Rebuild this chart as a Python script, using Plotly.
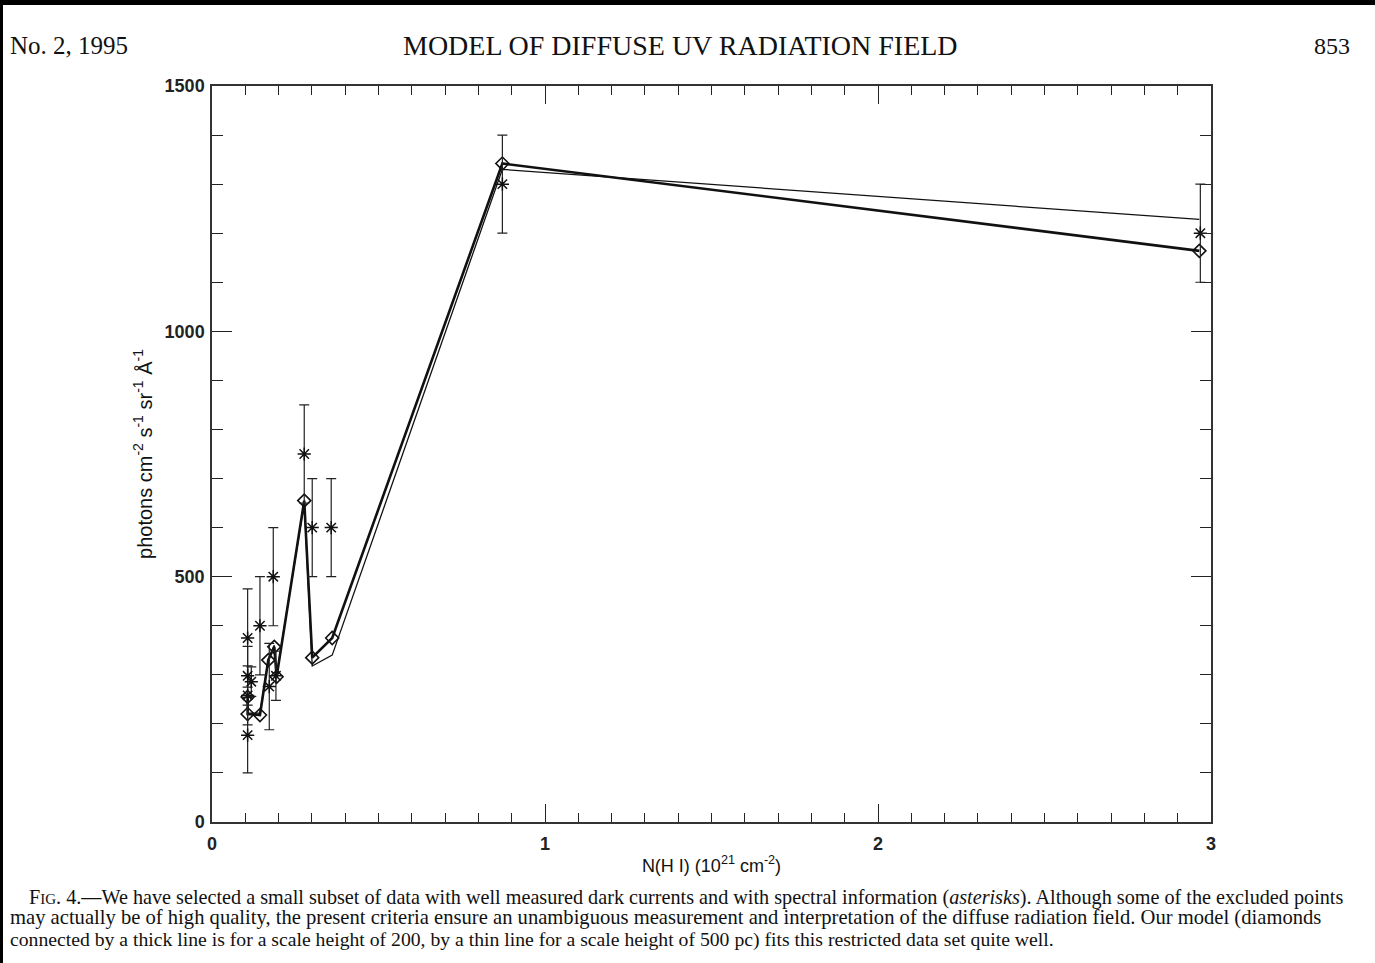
import plotly.graph_objects as go

# ---- data ----
ast_x = [0.107, 0.107, 0.107, 0.107, 0.118, 0.144, 0.172, 0.184, 0.192, 0.277, 0.301, 0.358, 0.872, 2.968]
ast_y = [375, 298, 258, 177, 286, 400, 276, 500, 298, 750, 600, 600, 1300, 1200]
ast_err = [100, 60, 60, 77, 30, 100, 88, 100, 50, 100, 100, 100, 100, 100]

model_x = [0.107, 0.107, 0.144, 0.169, 0.187, 0.194, 0.277, 0.301, 0.361, 0.872, 2.965]
thick_y = [255, 220, 218, 330, 357, 296, 655, 335, 375, 1342, 1164]
thin_y = [255, 222, 222, 332, 360, 300, 650, 318, 340, 1330, 1228]

x_ticks = [0, 1, 2, 3]
y_ticks = [0, 500, 1000, 1500]

W, H = 1375, 963
L, R, T, B = 212, 164, 86, 141
pw, ph = W - L - R, H - T - B


def px(xp):
    return (xp - L) / pw


def py(yp):
    return (H - B - yp) / ph


fig = go.Figure()

fig.add_trace(go.Scatter(
    x=model_x, y=thin_y, mode="lines",
    line=dict(color="#111", width=1.3), hoverinfo="skip", showlegend=False))
fig.add_trace(go.Scatter(
    x=model_x, y=thick_y, mode="lines+markers",
    line=dict(color="#111", width=2.6),
    marker=dict(symbol="diamond-open", size=10, color="#111", line=dict(width=1.6, color="#111")),
    showlegend=False))
fig.add_trace(go.Scatter(
    x=ast_x, y=ast_y, mode="markers",
    marker=dict(symbol="asterisk-open", size=11, color="#111", line=dict(width=1.5, color="#111")),
    error_y=dict(type="data", array=ast_err, visible=True, color="#222", thickness=1.2, width=5),
    showlegend=False))

sans = "Liberation Sans, Arial, sans-serif"
axis_common = dict(
    showline=True, linecolor="#333", linewidth=1.5, mirror="allticks",
    ticks="inside", tickcolor="#222", tickwidth=1.3,
    showgrid=False, zeroline=False,
    tickfont=dict(family=sans, size=18, color="#222", weight="bold"),
)

fig.update_xaxes(
    range=[0, 3], tickvals=x_ticks, ticklen=18, ticklabelstandoff=5,
    minor=dict(dtick=0.1, ticks="inside", ticklen=9, tickcolor="#222", tickwidth=1.2),
    title=dict(text="N(H I) (10<sup>21</sup> cm<sup>-2</sup>)", standoff=6,
               font=dict(family=sans, size=18, color="#111")),
    **axis_common)
fig.update_yaxes(
    range=[0, 1500], tickvals=y_ticks, ticklen=20, ticklabelstandoff=2,
    minor=dict(dtick=100, ticks="inside", ticklen=11, tickcolor="#222", tickwidth=1.2),
    title=dict(text="photons cm<sup>-2</sup> s<sup>-1</sup> sr<sup>-1</sup> Å<sup>-1</sup>", standoff=7,
               font=dict(family=sans, size=20, color="#111")),
    **axis_common)

serif = "Liberation Serif, Times New Roman, serif"
ann = []
ann.append(dict(text="No. 2, 1995", x=px(8), y=py(46), xanchor="left", yanchor="middle",
                font=dict(family=serif, size=25, color="#111")))
ann.append(dict(text="MODEL OF DIFFUSE UV RADIATION FIELD", x=px(680), y=py(46), xanchor="center",
                yanchor="middle", font=dict(family=serif, size=28, color="#111")))
ann.append(dict(text="853", x=px(1352), y=py(46), xanchor="right", yanchor="middle",
                font=dict(family=serif, size=24, color="#111")))

cap = [
    (27, 898, 20.2, "F<span style='font-size:15px'>IG</span>. 4.—We have selected a small subset of data with well measured dark currents and with spectral information (<i>asterisks</i>). Although some of the excluded points"),
    (8, 918, 20.6, "may actually be of high quality, the present criteria ensure an unambiguous measurement and interpretation of the diffuse radiation field. Our model (diamonds"),
    (8, 939, 19.7, "connected by a thick line is for a scale height of 200, by a thin line for a scale height of 500 pc) fits this restricted data set quite well."),
]
for xx, yy, fs, t in cap:
    ann.append(dict(text=t, x=px(xx), y=py(yy), xanchor="left", yanchor="middle",
                    font=dict(family=serif, size=fs, color="#111")))
for a in ann:
    a.update(xref="paper", yref="paper", showarrow=False)

shapes = [
    dict(type="rect", xref="paper", yref="paper", x0=px(0), x1=px(W), y0=py(0), y1=py(5),
         fillcolor="black", line=dict(width=0), layer="above"),
    dict(type="rect", xref="paper", yref="paper", x0=px(0), x1=px(3), y0=py(0), y1=py(H),
         fillcolor="black", line=dict(width=0), layer="above"),
]

fig.update_layout(
    width=W, height=H,
    margin=dict(l=L, r=R, t=T, b=B),
    paper_bgcolor="white", plot_bgcolor="white",
    annotations=ann, shapes=shapes,
    showlegend=False,
)

fig.write_html("out.html")
